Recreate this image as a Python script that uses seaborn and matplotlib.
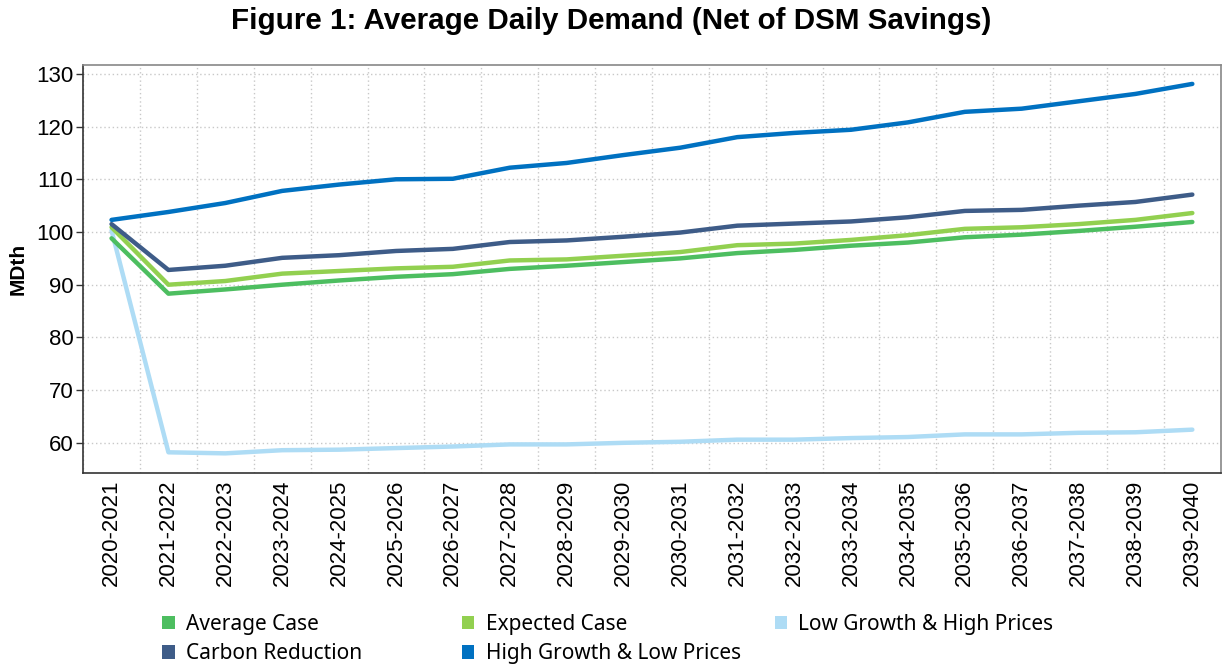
import matplotlib
matplotlib.use("Agg")
import matplotlib.pyplot as plt
from matplotlib.patches import Patch
from matplotlib.ticker import MultipleLocator, FixedLocator
import seaborn as sns
import pandas as pd

years = ["2020-2021", "2021-2022", "2022-2023", "2023-2024", "2024-2025", "2025-2026",
         "2026-2027", "2027-2028", "2028-2029", "2029-2030", "2030-2031", "2031-2032",
         "2032-2033", "2033-2034", "2034-2035", "2035-2036", "2036-2037", "2037-2038",
         "2038-2039", "2039-2040"]

average_case = [98.8, 88.3, 89.1, 90.0, 90.8, 91.5, 92.0, 93.0, 93.6, 94.3, 95.0, 96.0,
                96.6, 97.4, 98.0, 99.0, 99.5, 100.2, 101.0, 101.9]
expected_case = [100.9, 90.0, 90.7, 92.1, 92.6, 93.1, 93.4, 94.6, 94.8, 95.5, 96.2, 97.5,
                 97.8, 98.5, 99.4, 100.6, 100.9, 101.5, 102.3, 103.6]
low_growth = [100.3, 58.2, 58.0, 58.6, 58.7, 59.0, 59.3, 59.7, 59.7, 60.0, 60.2, 60.6,
              60.6, 60.9, 61.1, 61.6, 61.6, 61.9, 62.0, 62.5]
carbon_reduction = [101.5, 92.8, 93.6, 95.1, 95.6, 96.4, 96.8, 98.1, 98.4, 99.1, 99.9, 101.2,
                    101.6, 102.0, 102.8, 104.0, 104.2, 105.0, 105.7, 107.1]
high_growth = [102.3, 103.8, 105.5, 107.8, 109.0, 110.0, 110.1, 112.2, 113.1, 114.6, 116.0, 118.0,
               118.8, 119.4, 120.8, 122.8, 123.4, 124.8, 126.2, 128.1]

series_names = ["Average Case", "Expected Case", "Low Growth & High Prices",
                "Carbon Reduction", "High Growth & Low Prices"]
series_values = [average_case, expected_case, low_growth, carbon_reduction, high_growth]
colors = ["#4DBE60", "#92D050", "#AEDCF5", "#3E5C88", "#0071C1"]

rows = []
for name, vals in zip(series_names, series_values):
    for y, v in zip(years, vals):
        rows.append({"Year": y, "Value": v, "Series": name})
df = pd.DataFrame(rows)

sns.set_style("white")
plt.rcParams["font.family"] = ["Liberation Sans", "DejaVu Sans"]
plt.rcParams["text.color"] = "black"
plt.rcParams["axes.labelcolor"] = "black"
plt.rcParams["xtick.color"] = "black"
plt.rcParams["ytick.color"] = "black"

fig = plt.figure(figsize=(12.22, 6.66), dpi=100)
ax = fig.add_axes([0.068, 0.29, 0.931, 0.6125])

draw_order = ["Low Growth & High Prices", "Average Case", "Expected Case",
              "Carbon Reduction", "High Growth & Low Prices"]
palette = dict(zip(series_names, colors))
sns.lineplot(data=df, x="Year", y="Value", hue="Series", hue_order=draw_order,
             palette=palette, linewidth=3.2, ax=ax, legend=False, sort=False)

tick_font = {"family": ["Liberation Sans", "DejaVu Sans"], "size": 16}
ax.set_xlim(-0.5, len(years) - 0.5)
ax.set_ylim(54.3, 131.7)
ax.yaxis.set_major_locator(MultipleLocator(10))
ax.set_xticks(range(len(years)))
ax.set_xticklabels(years, rotation=90, fontdict=tick_font)
for lab in ax.get_yticklabels():
    lab.set_fontfamily(["Liberation Sans", "DejaVu Sans"])
ax.xaxis.set_minor_locator(FixedLocator([i - 0.5 for i in range(len(years) + 1)]))
ax.tick_params(axis="x", which="major", length=0, pad=5)
ax.tick_params(axis="x", which="minor", length=5, width=1, color="#333333", direction="out")
ax.tick_params(axis="y", which="major", length=5, width=1, color="#333333",
               direction="out", labelsize=16, left=True, pad=2)
ax.grid(False)
ax.grid(axis="y", which="major", linestyle=(0, (1, 2)), color="#C8C8C8", linewidth=1)
ax.grid(axis="x", which="minor", linestyle=(0, (1, 2)), color="#C8C8C8", linewidth=1)
ax.set_xlabel("")
ax.set_ylabel("MDth", fontsize=15, fontweight="bold", labelpad=6,
              family=["Liberation Sans", "DejaVu Sans"])
for side in ["left", "bottom"]:
    ax.spines[side].set_color("#333333")
    ax.spines[side].set_linewidth(1.2)
for side in ["top", "right"]:
    ax.spines[side].set_color("#888888")
    ax.spines[side].set_linewidth(1.2)

fig.suptitle("Figure 1: Average Daily Demand (Net of DSM Savings)", x=0.5, y=0.99,
             fontsize=21.3, fontweight="bold", family=["Liberation Sans", "DejaVu Sans"])

legend_cols = [
    (["Average Case", "Carbon Reduction"], 0.1258),
    (["Expected Case", "High Growth & Low Prices"], 0.371),
    (["Low Growth & High Prices"], 0.627),
]
for names, xpos in legend_cols:
    handles = [Patch(facecolor=palette[n], edgecolor="none", label=n) for n in names]
    fig.legend(handles=handles, loc="upper left", bbox_to_anchor=(xpos, 0.0905),
               frameon=False, handlelength=0.6, handleheight=0.6,
               handletextpad=0.55, labelspacing=0.4, borderaxespad=0,
               prop={"family": ["Noto Sans", "DejaVu Sans"], "size": 15})

fig.savefig("out.png", dpi=100)
